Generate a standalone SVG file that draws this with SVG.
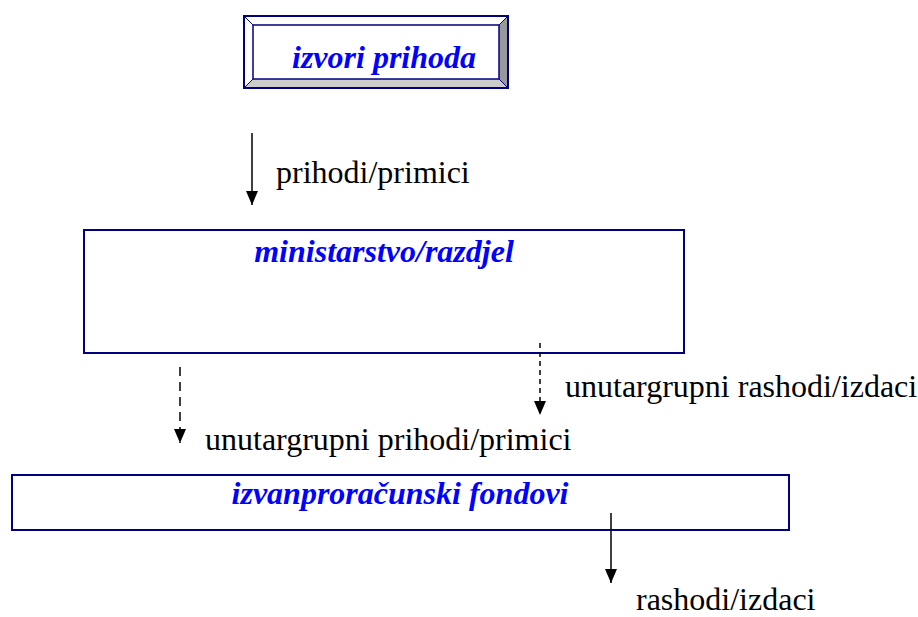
<svg xmlns="http://www.w3.org/2000/svg" width="918" height="617" viewBox="0 0 918 617">
<style>
.box{fill:#fff;stroke:#000080;stroke-width:2}
.title{font-family:"Liberation Serif",serif;font-weight:bold;font-style:italic;fill:#0000ff;font-size:32px}
.lbl{font-family:"Liberation Serif",serif;fill:#000;font-size:32px}
.solid{stroke:#000;stroke-width:1.5;fill:none}
.dash{stroke:#000;stroke-width:1.5;fill:none;stroke-dasharray:9,6}
.dash2{stroke:#000;stroke-width:1.5;fill:none;stroke-dasharray:5,4}
</style>
<defs>
<marker id="ah2" viewBox="0 0 14 12" refX="14" refY="6" markerWidth="14" markerHeight="12" markerUnits="userSpaceOnUse" orient="auto">
<path d="M0,0 L14,6 L0,12 z" fill="#000"/>
</marker>
</defs>
<g id="izvori">
<rect x="244" y="16" width="264" height="72" fill="#fff"/>
<polygon points="508,16 508,88 499,79 499,25" fill="#999"/>
<polygon points="244,88 508,88 499,79 253,79" fill="#ccc"/>
<rect x="244" y="16" width="264" height="72" fill="none" stroke="#000080" stroke-width="2"/>
<rect x="253" y="25" width="246" height="54" fill="none" stroke="#000080" stroke-width="1.5"/>
<line x1="244" y1="16" x2="253" y2="25" stroke="#000080" stroke-width="1"/>
<line x1="508" y1="16" x2="499" y2="25" stroke="#000080" stroke-width="1"/>
<line x1="244" y1="88" x2="253" y2="79" stroke="#000080" stroke-width="1"/>
<line x1="508" y1="88" x2="499" y2="79" stroke="#000080" stroke-width="1"/>
<text class="title" x="384" y="68" text-anchor="middle">izvori prihoda</text>
</g>
<g id="ministarstvo">
<rect class="box" x="84" y="230" width="600" height="123"/>
<text class="title" x="384" y="262" text-anchor="middle">ministarstvo/razdjel</text>
</g>
<g id="fondovi">
<rect class="box" x="12" y="475" width="777" height="55"/>
<text class="title" x="400" y="504" text-anchor="middle">izvanproračunski fondovi</text>
</g>
<g id="connectors">
<line class="solid" x1="252" y1="133" x2="252" y2="205" marker-end="url(#ah2)"/>
<line class="dash" x1="180" y1="367" x2="180" y2="443" marker-end="url(#ah2)"/>
<line class="dash2" x1="540" y1="343" x2="540" y2="415" marker-end="url(#ah2)"/>
<line class="solid" x1="611" y1="513" x2="611" y2="583" marker-end="url(#ah2)"/>
</g>
<g id="labels">
<text class="lbl" x="276" y="183">prihodi/primici</text>
<text class="lbl" x="565" y="397">unutargrupni rashodi/izdaci</text>
<text class="lbl" x="205" y="450">unutargrupni prihodi/primici</text>
<text class="lbl" x="636" y="610">rashodi/izdaci</text>
</g>
</svg>
